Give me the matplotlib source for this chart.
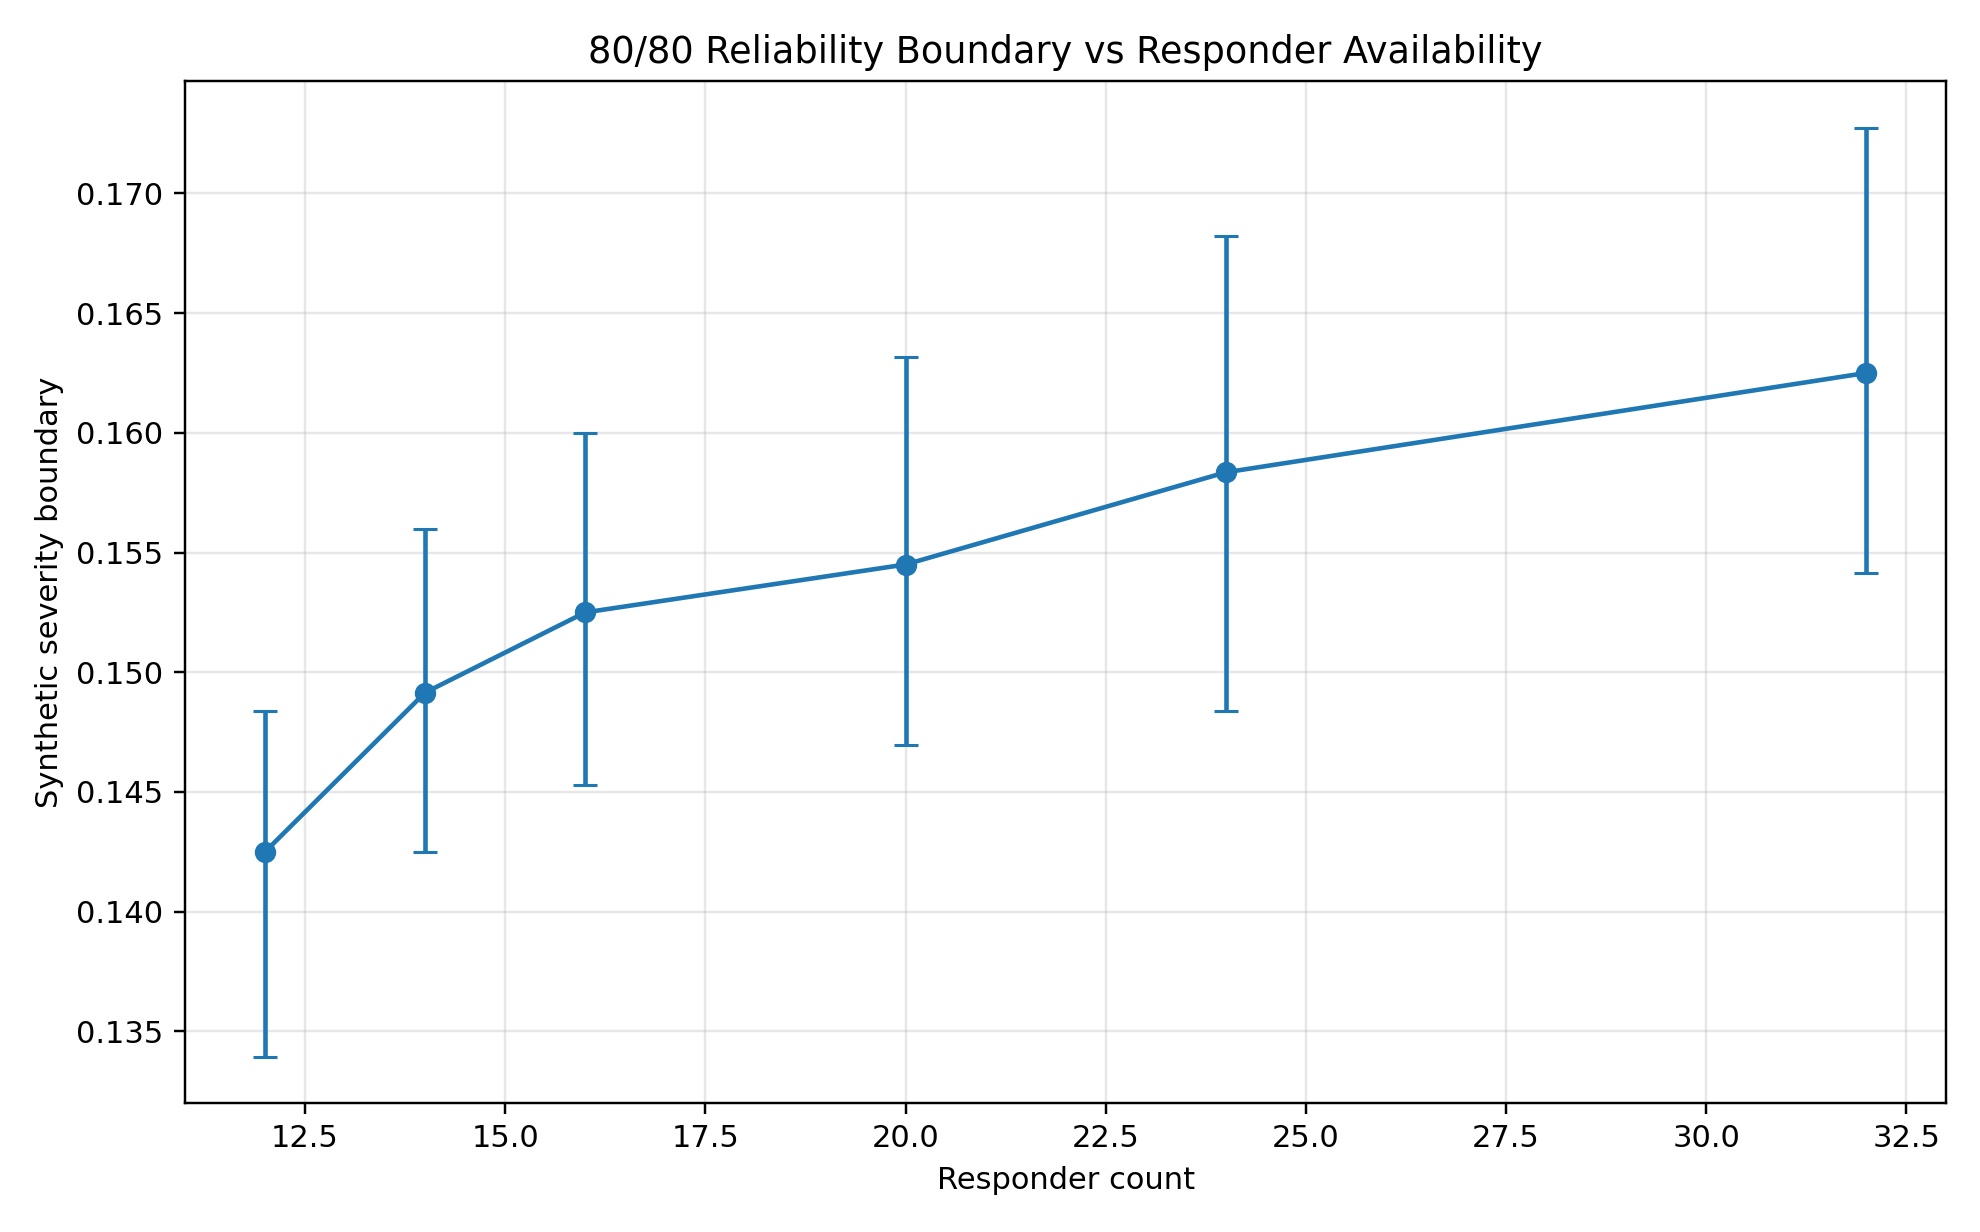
import numpy as np
import matplotlib
matplotlib.use('Agg')
import matplotlib.pyplot as plt

# Dados
responders = [12, 14, 16, 20, 24, 32]
boundary = [0.1425, 0.14915, 0.1525, 0.15450, 0.15835, 0.16250]
lower = [0.13395, 0.14250, 0.14528, 0.14696, 0.14839, 0.15413]
upper = [0.14839, 0.15598, 0.15998, 0.16318, 0.16821, 0.17274]

y = np.array(boundary)
yerr = [y - np.array(lower), np.array(upper) - y]

fig, ax = plt.subplots(figsize=(9, 5.6), dpi=220)
ax.errorbar(responders, boundary, yerr=yerr, fmt='-o', capsize=4, lw=1.5, markersize=6, color='#1f77b4')
ax.set_title('80/80 Reliability Boundary vs Responder Availability')
ax.set_xlabel('Responder count')
ax.set_ylabel('Synthetic severity boundary')
ax.grid(True, alpha=0.3)
fig.subplots_adjust(left=0.0934, right=0.983, bottom=0.1047, top=0.934)
fig.savefig('out.png', dpi=220)
